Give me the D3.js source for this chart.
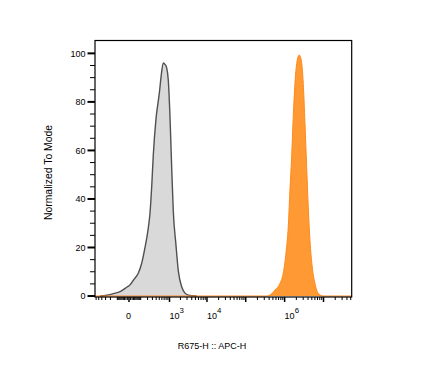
<!DOCTYPE html>
<html><head><meta charset="utf-8">
<script src="https://cdn.jsdelivr.net/npm/d3@7"></script>
<style>body{margin:0;background:#fff}svg{display:block}text{font-family:"Liberation Sans",Arial,sans-serif}</style>
</head><body><svg id="c" width="426" height="381"></svg>
<script>
// Data (fluorescence values, normalized counts)
const grayX = [-456,-274,-153,-70,-15,6,29,73,112,158,213,246,283,321,394,501,564,661,742,831,923,1031,1151,1275,1513,1749,2160,2650,3240,5390];
const grayY = [0,0.3,1.0,1.8,3.6,4.6,6.5,9.4,13.5,20,28,34,45,58,73,83.5,90,96,95.5,94,89,74,53,35,21,10.5,3.8,1.2,0.4,0];
const orangeX = [345700,420000,564400,759000,922400,1083000,1240000,1372000,1517000,1667000,1843000,2112000,2378000,2677000,3015000,3332000,3685000,4050000,4479000,5133000,6025000,7321000,9849000];
const orangeY = [0,0.4,2.5,5.2,9.4,17.6,28.5,43.7,57.4,73.9,87.6,97.2,99.3,97.2,87.6,71.2,53.3,36.8,23,12,5.2,1.1,0];
const xMajor = [0,1e3,1e4,1e5,1e6,1e7];
const xLabels = [{v:0,base:"0",exp:""},{v:1e3,base:"10",exp:"3"},{v:1e4,base:"10",exp:"4"},{v:1e6,base:"10",exp:"6"}];
const yMajor = [0,20,40,60,80,100];
const xTitle = "R675-H :: APC-H";
const yTitle = "Normalized To Mode";

const svg = d3.select("#c");
const L=95, R=351.7, T=40.5, B=297;
const xDomain=[-648, 5.3e7];
const x = d3.scaleSymlog().constant(100).domain(xDomain).range([L,R]);
const y = d3.scaleLinear().domain([-0.4,105.3]).range([B,T]);

// minor ticks x
const xMinor=[];
for(let k=1;k<=6;k++) xMinor.push(-100*k);
for(let k=1;k<=9;k++) xMinor.push(-10*k);
for(let e=1;e<=7;e++) for(let k=1;k<=9;k++){const v=k*Math.pow(10,e); if(!xMajor.includes(v)&&v<=xDomain[1]) xMinor.push(v);}
const yMinor=d3.range(5,105,5).filter(v=>v%20!==0);

const area = d3.area().x(d=>x(d[0])).y0(y(0)).y1(d=>y(d[1])).curve(d3.curveMonotoneX);
const line = d3.line().x(d=>x(d[0])).y(d=>y(d[1])).curve(d3.curveMonotoneX);

const gray = grayX.map((v,i)=>[v,grayY[i]]);
const orange = [[xDomain[0],0]].concat(orangeX.map((v,i)=>[v,orangeY[i]])).concat([[xDomain[1],0]]);

svg.append("path").attr("d",area(gray)).attr("fill","#d9d9d9");
svg.append("path").attr("d",line(gray)).attr("fill","none").attr("stroke","#505050").attr("stroke-width",1.4);
svg.append("path").attr("d",area(orange)).attr("fill","#ff9933");
svg.append("path").attr("d",line(orange)).attr("fill","none").attr("stroke","#ff8a1a").attr("stroke-width",1);

// frame
svg.append("rect").attr("x",L).attr("y",T).attr("width",R-L).attr("height",B-T).attr("fill","none").attr("stroke","#000").attr("stroke-width",1.2);

// x ticks
svg.selectAll(".xmi").data(xMinor).join("line").attr("x1",d=>x(d)).attr("x2",d=>x(d)).attr("y1",B).attr("y2",B+3).attr("stroke","#000").attr("stroke-width",1);
svg.selectAll(".xma").data(xMajor).join("line").attr("x1",d=>x(d)).attr("x2",d=>x(d)).attr("y1",B).attr("y2",B+5).attr("stroke","#000").attr("stroke-width",1.5);
// y ticks
svg.selectAll(".ymi").data(yMinor).join("line").attr("x1",L-5).attr("x2",L).attr("y1",d=>y(d)).attr("y2",d=>y(d)).attr("stroke","#000").attr("stroke-width",1);
svg.selectAll(".yma").data(yMajor).join("line").attr("x1",L-7.5).attr("x2",L).attr("y1",d=>y(d)).attr("y2",d=>y(d)).attr("stroke","#000").attr("stroke-width",2);

svg.selectAll(".yl").data(yMajor).join("text").attr("x",L-9.5).attr("y",d=>y(d)+3.3).attr("text-anchor","end").attr("font-size",9).text(d=>d);

const xl = svg.selectAll(".xl").data(xLabels).join("text")
  .attr("x",d=>x(d.v)+(d.exp?0:-0.5)).attr("y",318.5).attr("text-anchor",d=>d.exp?"start":"middle").attr("font-size",9);
xl.append("tspan").text(d=>d.base);
xl.append("tspan").attr("dy",-6).attr("font-size",7.8).text(d=>d.exp);

svg.append("text").attr("x",212).attr("y",349).attr("text-anchor","middle").attr("font-size",9).text(xTitle);
svg.append("text").attr("transform","translate(52,172.5) rotate(-90)").attr("text-anchor","middle").attr("font-size",10.4).text(yTitle);
</script></body></html>
